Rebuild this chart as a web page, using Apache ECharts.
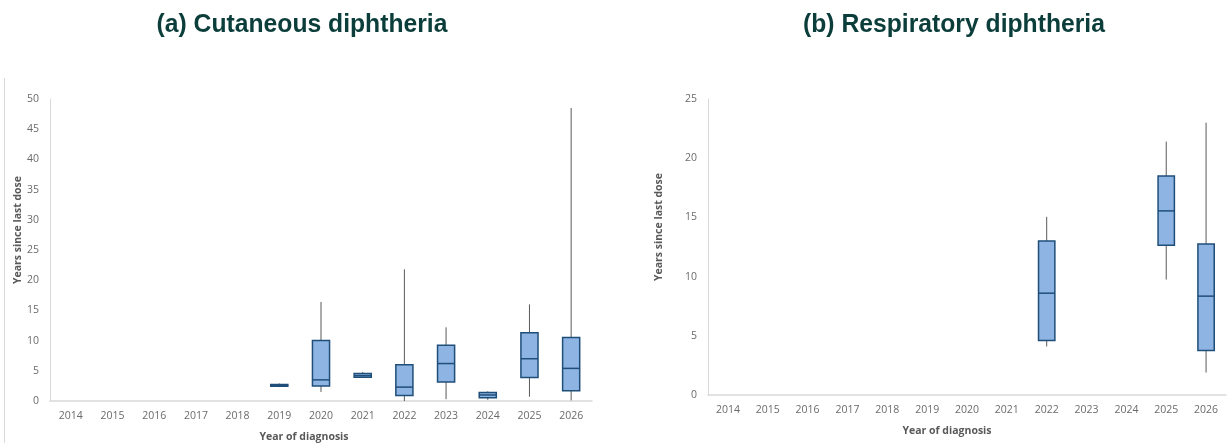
<!DOCTYPE html>
<html>
<head>
<meta charset="utf-8">
<script src="https://cdn.jsdelivr.net/npm/echarts@6/dist/echarts.min.js"></script>
<style>
  html, body { margin: 0; padding: 0; background: #fff; }
  #chart { width: 1229px; height: 443px; }
</style>
</head>
<body>
<div id="chart"></div>
<script>
// categories
const years = ['2014', '2015', '2016', '2017', '2018', '2019', '2020', '2021', '2022', '2023', '2024', '2025', '2026']

// (a) cutaneous: min / Q1 / median / Q3 / max per year (null = no cases)
const cutMin    = [null, null, null, null, null, 2.3, 1.5, 3.9, 0.0, 0.3, 0.2, 0.7, 0.1]
const cutQ1     = [null, null, null, null, null, 2.45, 2.5, 3.95, 0.9, 3.15, 0.55, 3.9, 1.7]
const cutMedian = [null, null, null, null, null, 2.6, 3.5, 4.2, 2.3, 6.2, 1.0, 7.0, 5.4]
const cutQ3     = [null, null, null, null, null, 2.75, 10.0, 4.55, 6.0, 9.25, 1.4, 11.3, 10.5]
const cutMax    = [null, null, null, null, null, 2.9, 16.4, 4.8, 21.8, 12.2, 1.6, 16.0, 48.5]

// (b) respiratory
const respMin    = [null, null, null, null, null, null, null, null, 4.1, null, null, 9.75, 1.9]
const respQ1     = [null, null, null, null, null, null, null, null, 4.6, null, null, 12.65, 3.75]
const respMedian = [null, null, null, null, null, null, null, null, 8.6, null, null, 15.55, 8.35]
const respQ3     = [null, null, null, null, null, null, null, null, 13.0, null, null, 18.5, 12.75]
const respMax    = [null, null, null, null, null, null, null, null, 15.05, null, null, 21.4, 23.0]

const toBoxData = (mn, q1, md, q3, mx) =>
  years.map((y, i) => mn[i] == null ? null : [i, mn[i], q1[i], md[i], q3[i], mx[i]]).filter(d => d)

const LABEL = '#6b6b6b'
const AXIS = '#d9d9d9'
const FILL = '#8db4e2'
const EDGE = '#1f4e79'
const WHISK = '#595959'
const FONT = "'Open Sans', sans-serif"

const renderBox = (params, api) => {
  const i = api.value(0)
  const lo = api.coord([i, api.value(1)])
  const q1 = api.coord([i, api.value(2)])
  const md = api.coord([i, api.value(3)])
  const q3 = api.coord([i, api.value(4)])
  const hi = api.coord([i, api.value(5)])
  const half = api.size([1, 0])[0] * 0.205
  return {
    type: 'group',
    children: [
      { type: 'line', shape: { x1: lo[0], y1: lo[1], x2: hi[0], y2: hi[1] }, style: { stroke: WHISK, lineWidth: 1 } },
      { type: 'rect', shape: { x: q3[0] - half, y: q3[1], width: half * 2, height: q1[1] - q3[1] },
        style: { fill: FILL, stroke: EDGE, lineWidth: 1.5 } },
      { type: 'line', shape: { x1: md[0] - half, y1: md[1], x2: md[0] + half, y2: md[1] }, style: { stroke: EDGE, lineWidth: 1.5 } }
    ]
  }
}

const xAxisBase = (gridIndex, margin) => ({
  type: 'category',
  gridIndex,
  data: years,
  boundaryGap: true,
  axisLine: { lineStyle: { color: AXIS, width: 1.5 } },
  axisTick: { show: false },
  axisLabel: { color: LABEL, fontSize: 10.5, fontFamily: FONT, margin, interval: 0 },
  splitLine: { show: false }
})

const yAxisBase = (gridIndex, max) => ({
  type: 'value',
  gridIndex,
  min: 0,
  max,
  interval: 5,
  axisLine: { show: true, lineStyle: { color: AXIS, width: 1 } },
  axisTick: { show: false },
  axisLabel: { color: LABEL, fontSize: 10.5, fontFamily: FONT, margin: 11 },
  splitLine: { show: false }
})

const textEl = (x, y, text, font, fill, rotation, scaleX) => ({
  type: 'text',
  x, y,
  rotation: rotation || 0,
  scaleX: scaleX || 1,
  style: { text, font, fill, align: 'center', verticalAlign: 'middle' }
})

const TITLE_FONT = "bold 26px 'Liberation Sans', Arial, sans-serif"
const NAME_FONT = "bold 10.5px 'Open Sans', sans-serif"

const chart = echarts.init(document.getElementById('chart'))

chart.setOption({
  backgroundColor: '#fff',
  animation: false,
  grid: [
    { left: 50, right: 637, top: 99, bottom: 42 },
    { left: 708, right: 3, top: 99, bottom: 48 }
  ],
  xAxis: [xAxisBase(0, 10), xAxisBase(1, 10)],
  yAxis: [yAxisBase(0, 50), yAxisBase(1, 25)],
  series: [
    {
      type: 'custom',
      xAxisIndex: 0,
      yAxisIndex: 0,
      renderItem: renderBox,
      encode: { x: 0, y: [1, 2, 3, 4, 5] },
      data: toBoxData(cutMin, cutQ1, cutMedian, cutQ3, cutMax)
    },
    {
      type: 'custom',
      xAxisIndex: 1,
      yAxisIndex: 1,
      renderItem: renderBox,
      encode: { x: 0, y: [1, 2, 3, 4, 5] },
      data: toBoxData(respMin, respQ1, respMedian, respQ3, respMax)
    }
  ],
  graphic: [
    textEl(302, 25, '(a) Cutaneous diphtheria', TITLE_FONT, '#0b3d3a', 0, 0.95),
    textEl(954, 25, '(b) Respiratory diphtheria', TITLE_FONT, '#0b3d3a', 0, 0.95),
    textEl(18, 230, 'Years since last dose', NAME_FONT, '#595959', Math.PI / 2),
    textEl(659, 227, 'Years since last dose', NAME_FONT, '#595959', Math.PI / 2),
    textEl(304, 437, 'Year of diagnosis', NAME_FONT, '#595959'),
    textEl(947, 431, 'Year of diagnosis', NAME_FONT, '#595959'),
    { type: 'line', shape: { x1: 4.5, y1: 78, x2: 4.5, y2: 443 }, style: { stroke: AXIS, lineWidth: 1 } }
  ]
})
</script>
</body>
</html>
